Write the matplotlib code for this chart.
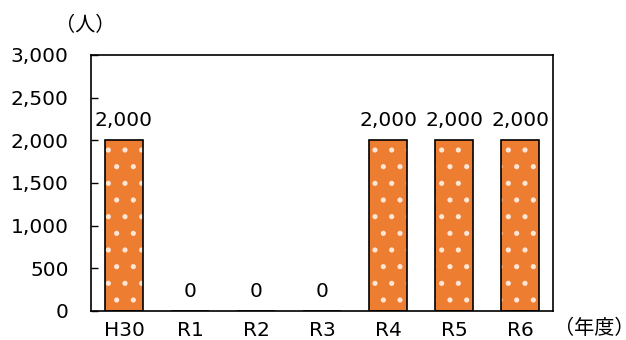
import matplotlib
matplotlib.use('Agg')
import matplotlib.pyplot as plt

categories = ['H30', 'R1', 'R2', 'R3', 'R4', 'R5', 'R6']
values = [2000, 0, 0, 0, 2000, 2000, 2000]
yticks = [0, 500, 1000, 1500, 2000, 2500, 3000]

plt.rcParams['font.family'] = ['DejaVu Sans', 'Noto Sans CJK JP']
plt.rcParams['hatch.linewidth'] = 1.3
fs = 14.5
jp = ['Noto Sans CJK JP', 'DejaVu Sans']

fig = plt.figure(figsize=(6.26, 3.4), dpi=100)
ax = fig.add_axes([91 / 626, 1 - 311 / 340, 462 / 626, 256 / 340])

x = list(range(len(categories)))
# fill with white dots, then black outline on top
ax.bar(x, values, width=0.58, color='#ED7D31', edgecolor='#fde6d6',
       linewidth=0, hatch='.', zorder=2)
ax.bar(x, values, width=0.58, facecolor='none', edgecolor='black',
       linewidth=1.2, zorder=3)

for xi, v in zip(x, values):
    ax.text(xi, v + 120, f'{v:,}', ha='center', va='bottom', fontsize=fs)

ax.set_xlim(-0.5, len(categories) - 0.5)
ax.set_ylim(0, 3000)
ax.set_yticks(yticks)
ax.set_yticklabels([f'{t:,}' for t in yticks], fontsize=fs)
ax.set_xticks(x)
ax.set_xticklabels(categories, fontsize=fs)
ax.tick_params(axis='y', direction='in', length=5, width=1, pad=16)
ax.tick_params(axis='x', length=0, pad=7)
for s in ax.spines.values():
    s.set_linewidth(1.2)
    s.set_color('black')

fig.text(85 / 626, 1 - 26 / 340, '（人）', ha='center', va='center',
         fontsize=fs, family=jp)
fig.text(594 / 626, 1 - 329 / 340, '（年度）', ha='center', va='center',
         fontsize=fs, family=jp)
fig.text(-8 / 626, 1 - 326 / 340, '）', ha='left', va='center',
         fontsize=fs, family=jp)

fig.savefig('out.png', dpi=100)
